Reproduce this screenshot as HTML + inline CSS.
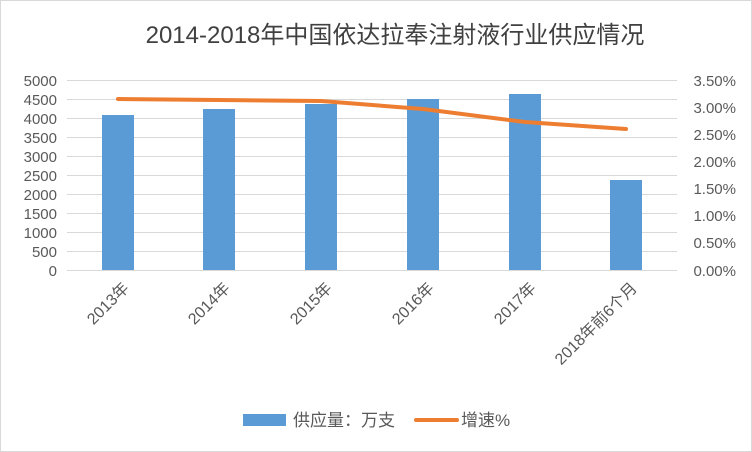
<!DOCTYPE html>
<html><head><meta charset="utf-8"><style>
html,body{margin:0;padding:0;background:#fff}
svg{display:block}
text{font-family:"Liberation Sans","Noto Sans CJK SC",sans-serif;fill:#595959}
</style></head><body>
<svg width="752" height="452" viewBox="0 0 752 452">
<rect x="0.5" y="0.5" width="751" height="451" fill="#fff" stroke="#d9d9d9"/>
<text x="395" y="43" font-size="24" text-anchor="middle" style="fill:#404040">2014-2018年中国依达拉奉注射液行业供应情况</text>
<g stroke="#d9d9d9" stroke-width="1">
<line x1="67" x2="677" y1="80.5" y2="80.5"/><line x1="67" x2="677" y1="99.5" y2="99.5"/>
<line x1="67" x2="677" y1="118.5" y2="118.5"/><line x1="67" x2="677" y1="137.5" y2="137.5"/>
<line x1="67" x2="677" y1="156.5" y2="156.5"/><line x1="67" x2="677" y1="175.5" y2="175.5"/>
<line x1="67" x2="677" y1="194.5" y2="194.5"/><line x1="67" x2="677" y1="213.5" y2="213.5"/>
<line x1="67" x2="677" y1="232.5" y2="232.5"/><line x1="67" x2="677" y1="251.5" y2="251.5"/>
<line x1="67" x2="677" y1="270.5" y2="270.5"/>
</g>
<g font-size="15" text-anchor="end">
<text x="57" y="86">5000</text><text x="57" y="105">4500</text><text x="57" y="124">4000</text>
<text x="57" y="143">3500</text><text x="57" y="162">3000</text><text x="57" y="181">2500</text>
<text x="57" y="200">2000</text><text x="57" y="219">1500</text><text x="57" y="238">1000</text>
<text x="57" y="257">500</text><text x="57" y="276">0</text>
</g>
<g font-size="15" text-anchor="end">
<text x="736" y="86">3.50%</text><text x="736" y="113">3.00%</text><text x="736" y="140">2.50%</text>
<text x="736" y="167">2.00%</text><text x="736" y="194">1.50%</text><text x="736" y="221">1.00%</text>
<text x="736" y="248">0.50%</text><text x="736" y="276">0.00%</text>
</g>
<g fill="#5b9bd5">
<rect x="102" y="115" width="32" height="155"/>
<rect x="203" y="109" width="32" height="161"/>
<rect x="305" y="104" width="32" height="166"/>
<rect x="407" y="99" width="32" height="171"/>
<rect x="509" y="94" width="32" height="176"/>
<rect x="610" y="180" width="32" height="90"/>
</g>
<polyline points="118,99 219,100 321,101 423,109 525,122 626,129" fill="none" stroke="#ed7d31" stroke-width="4" stroke-linejoin="round" stroke-linecap="round"/>
<g font-size="16" text-anchor="end">
<text transform="translate(130,289) rotate(-45)">2013年</text>
<text transform="translate(231,289) rotate(-45)">2014年</text>
<text transform="translate(333,289) rotate(-45)">2015年</text>
<text transform="translate(435,289) rotate(-45)">2016年</text>
<text transform="translate(537,289) rotate(-45)">2017年</text>
<text transform="translate(638,289) rotate(-45)">2018年前6个月</text>
</g>
<rect x="243" y="414" width="43" height="12" fill="#5b9bd5"/>
<text x="293" y="426" font-size="17">供应量：万支</text>
<line x1="416" x2="457" y1="420" y2="420" stroke="#ed7d31" stroke-width="4" stroke-linecap="round"/>
<text x="461" y="426" font-size="17">增速%</text>
</svg>
</body></html>
